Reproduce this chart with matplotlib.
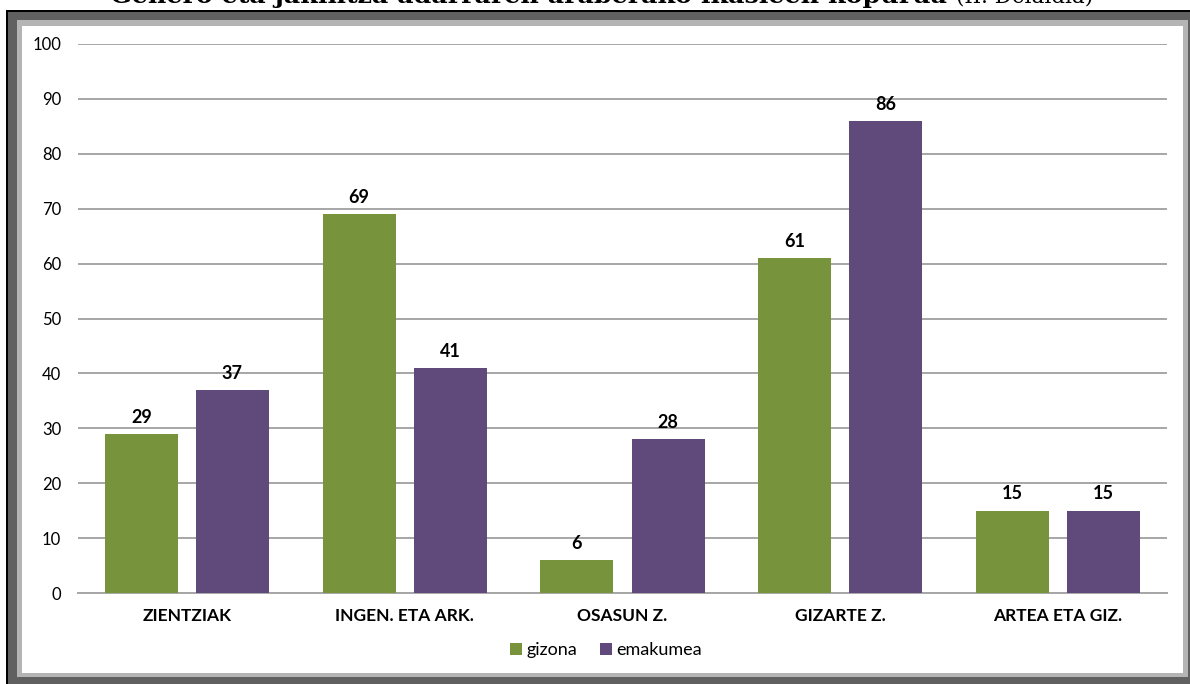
import matplotlib
matplotlib.use("Agg")
import matplotlib.pyplot as plt
import numpy as np
from matplotlib.patches import Rectangle

categories = ["ZIENTZIAK", "INGEN. ETA ARK.", "OSASUN Z.", "GIZARTE Z.", "ARTEA ETA GIZ."]
gizona = [29, 69, 6, 61, 15]
emakumea = [37, 41, 28, 86, 15]
series_names = ["gizona", "emakumea"]
yticks = list(range(0, 101, 10))

title_bold = "Genero eta jakintza adarraren araberako ikasleen kopurua "
title_rest = "(II. Delaidia)"

W, H = 1190, 684
green = "#77933C"
purple = "#604A7B"
grid_col = "#A6A6A6"

plt.rcParams['font.family'] = ['Lato', 'DejaVu Sans']

fig = plt.figure(figsize=(W / 100, H / 100), dpi=100)
fig.patch.set_facecolor("white")


def px_rect(x0, y0, x1, y1, color, z):
    # pixel coords from top-left -> figure fraction
    r = Rectangle((x0 / W, 1 - y1 / H), (x1 - x0) / W, (y1 - y0) / H,
                  transform=fig.transFigure, facecolor=color, edgecolor="none", zorder=z)
    fig.add_artist(r)


# frame around the chart
px_rect(6, 9.5, W, H, "black", 0)
px_rect(8, 12, W, H, "#606060", 0.1)
px_rect(17, 20, 1187.5, 677, "#B4B4B4", 0.2)
px_rect(22, 26, 1183, 673, "white", 0.3)

# title, only its lower part shows at the top edge
t1 = fig.text(110 / W, 1 - 3 / H, title_bold, fontsize=18.3, fontweight="bold",
              family="DejaVu Serif", va="baseline", ha="left", zorder=5)
fig.canvas.draw()
bb = t1.get_window_extent()
fig.text(bb.x1 / W, 1 - 3 / H, title_rest, fontsize=15.5, family="DejaVu Serif",
         va="baseline", ha="left", zorder=5)

ax = fig.add_axes([78 / W, (H - 593) / H, (1167 - 78) / W, (593 - 44) / H])
ax.set_zorder(2)
ax.patch.set_alpha(0)

x = np.arange(len(categories))
bw = 0.335
off = 0.209
b1 = ax.bar(x - off, gizona, bw, color=green, label=series_names[0], zorder=3)
b2 = ax.bar(x + off, emakumea, bw, color=purple, label=series_names[1], zorder=3)

for bars, vals in ((b1, gizona), (b2, emakumea)):
    for rect, v in zip(bars, vals):
        ax.text(rect.get_x() + rect.get_width() / 2, v + 1.5, str(v), ha="center",
                va="bottom", fontsize=13, fontweight="bold", color="black")

ax.set_xlim(-0.5, len(categories) - 0.5)
ax.set_ylim(0, 100)
ax.set_yticks(yticks)
ax.set_xticks(x)
ax.set_xticklabels(categories, fontsize=12.5, fontweight="bold")
ax.tick_params(axis="y", length=0, pad=12, labelsize=12)
ax.tick_params(axis="x", length=0, pad=11)
ax.yaxis.grid(True, color=grid_col, linewidth=1.4, zorder=1)
ax.set_axisbelow(True)
for s in ("top", "right", "left"):
    ax.spines[s].set_visible(False)
ax.spines["bottom"].set_color(grid_col)
ax.spines["bottom"].set_linewidth(1.4)

leg = fig.legend(handles=[b1, b2], labels=series_names, loc="center",
                 bbox_to_anchor=(606 / W, 1 - 650 / H), ncol=2, frameon=False,
                 fontsize=13, handlelength=0.65, handleheight=0.65, handletextpad=0.25,
                 columnspacing=1.3)

fig.savefig("out.png", dpi=100)
